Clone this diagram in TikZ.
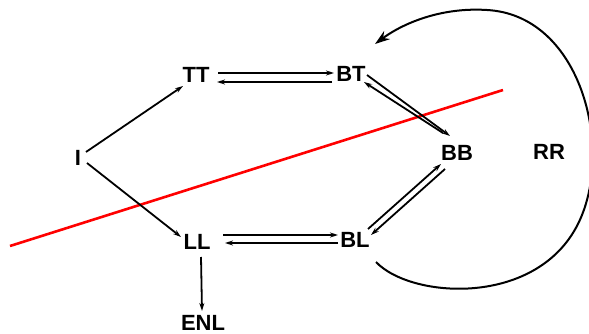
\documentclass[tikz,border=0pt]{standalone}
\usepackage{fontspec}
\setmainfont{Liberation Sans}
\usetikzlibrary{arrows.meta,calc}
\begin{document}
\begin{tikzpicture}[x=1pt,y=-1pt,
  lbl/.style={inner sep=0pt,font=\fontsize{22}{25}\selectfont\bfseries},
  arr/.style={line width=1.8pt,-{Stealth[length=8pt,width=5pt]}},
  redline/.style={draw=red,line width=2.6pt}]
\path[use as bounding box] (0,0) rectangle (589,334);
\node[lbl] (I) at (78,158) {I};
\node[lbl] (TT) at (196,75) {TT};
\node[lbl] (BT) at (351,74) {BT};
\node[lbl] (BB) at (457,153) {BB};
\node[lbl] (RR) at (549,152) {RR};
\node[lbl] (LL) at (197,242) {LL};
\node[lbl] (BL) at (355,240) {BL};
\node[lbl] (ENL) at (203,323) {ENL};
\coordinate (rA) at (10,246);
\coordinate (rB) at (503,90);
\draw[redline] (rA) -- (rB);
% I to TT / LL
\draw[arr] ([shift={(8,-6)}]I.center) -- ([shift={(-13,11)}]TT.center);
\draw[arr] ([shift={(9,5)}]I.center) -- ([shift={(-16,-5)}]LL.center);
% TT <-> BT
\draw[arr] ([shift={(22,-2)}]TT.center) -- ([shift={(-17,-1)}]BT.center);
\draw[arr] ([shift={(-19,8)}]BT.center) -- ([shift={(21,7)}]TT.center);
% BT <-> BB
\draw[arr] ([shift={(16,1)}]BT.center) -- ([shift={(-7,-17)}]BB.center);
\draw[arr] ([shift={(-14,-20)}]BB.center) -- ([shift={(13,8)}]BT.center);
% BB <-> BL
\draw[arr] ([shift={(13,-11)}]BL.center) -- ([shift={(-16,11)}]BB.center);
\draw[arr] ([shift={(-12,16)}]BB.center) -- ([shift={(16,-5)}]BL.center);
% LL <-> BL
\draw[arr] ([shift={(26,-7)}]LL.center) -- ([shift={(-17,-5)}]BL.center);
\draw[arr] ([shift={(-17,3)}]BL.center) -- ([shift={(28,1)}]LL.center);
% LL -> ENL
\draw[arr] ([shift={(4,15)}]LL.center) -- ([shift={(-1,-12)}]ENL.center);
% RR loop
\coordinate (s) at ([shift={(-173,110)}]RR.center);
\coordinate (e) at ([shift={(-174,-108)}]RR.center);
\draw[line width=2pt,-{Stealth[length=15pt,width=10pt]}]
  (s) .. controls (412,300) and (545,308) .. (582,215)
      .. controls (612,140) and (578,15) .. (487,10)
      .. controls (440,7) and (402,24) .. (e);
\end{tikzpicture}
\end{document}
